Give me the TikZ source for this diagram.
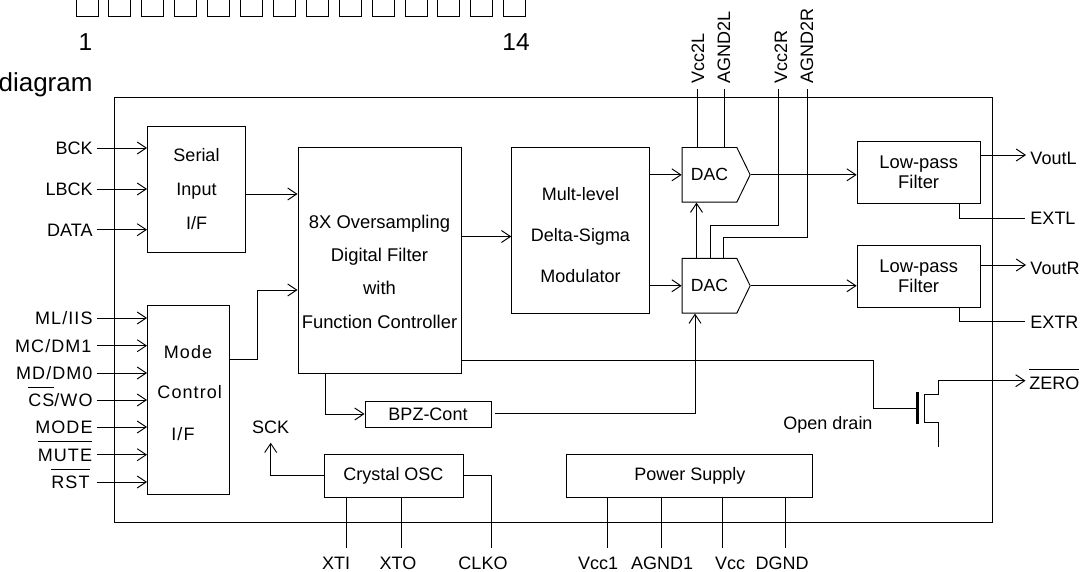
\documentclass[tikz,border=0pt]{standalone}
\usepackage{fontspec}
\setmainfont{Liberation Sans}
\newfontfamily\spacedfont[LetterSpace=6]{Liberation Sans}
\usetikzlibrary{shapes.symbols, arrows.meta, positioning, calc}
\newcommand{\barred}[1]{$\overline{\mbox{\rule{0pt}{1.02em}#1}}$}

\begin{document}
\begin{tikzpicture}[
		x=1pt, y=-1pt,
		>={Straight Barb[length=9pt,width=12pt]},
		line width=0.95pt,
		block/.style={draw, inner sep=0pt, align=center,
			font=\fontsize{18}{34}\selectfont},
		blockdac/.style={draw, signal, signal to=east, signal pointer angle=128, inner sep=0pt,
			minimum width=68pt, minimum height=54.6pt, font=\fontsize{17.6}{20}\selectfont},
		blockfilter/.style={draw, inner sep=0pt, align=center, minimum width=123pt, minimum height=61.5pt,
			font=\fontsize{18.4}{19.7}\selectfont},
		pad/.style={draw, inner sep=0pt, minimum width=22pt, minimum height=32pt},
		pinlabel/.style={inner sep=0pt, font=\fontsize{18}{20}\selectfont},
		modelabel/.style={inner sep=0pt, font=\fontsize{18}{20}\selectfont\spacedfont},
		toplabel/.style={inner sep=0pt, rotate=90, anchor=base west, font=\fontsize{18}{20}\selectfont},
		biglabel/.style={inner sep=0pt, font=\fontsize{24.5}{26}\selectfont},
		arr/.style={->},
	]
		\useasboundingbox (0,0) rectangle (1081,571);

		% Package pads
		\foreach \i in {1,...,14}
			\node[pad] (pad\i) at ({87+32.9*(\i-1)},0) {};
		\node[biglabel, anchor=base] (first) at (85.5,50) {1};
		\node[biglabel, anchor=base] (last) at (516,50) {14};
		\node[biglabel, anchor=base east, font=\fontsize{26}{28}\selectfont] (title) at (93,91.7) {diagram};

		% Chip outline
		\node[draw, inner sep=0pt, minimum width=878pt, minimum height=425pt] (chip) at (553,309.5) {};

		% Input blocks
		\node[block, minimum width=98pt, minimum height=126pt] (serial) at (196.5,189) {Serial\\Input\\I/F};
		\node[block, minimum width=81.5pt, minimum height=189pt, below=53pt of serial.south west, anchor=north west] (mode) {};
		\node[modelabel, anchor=base] (modea) at (188,358) {Mode};
		\node[modelabel, anchor=base] (modeb) at (189.7,398.5) {Control};
		\node[modelabel, anchor=base] (modec) at (183,440.5) {I/F};

		% Filter and modulator
		\node[block, minimum width=163pt, minimum height=226pt] (fir) at (379.5,260) {};
		\node[inner sep=0pt, align=center, font=\fontsize{18.4}{33.3}\selectfont, yshift=-11.7pt] (firtext) at (fir)
			{8X Oversampling\\Digital Filter\\with\\Function Controller};
		\node[block, minimum width=137.5pt, minimum height=166pt] (delta) at (580.5,230) {};
		\node[inner sep=0pt, align=center, font=\fontsize{18}{41}\selectfont, yshift=-5pt] (deltatext) at (delta)
			{Mult-level\\Delta-Sigma\\Modulator};

		% DACs
		\node[blockdac] (dacl) at (709.5,174.8) {DAC};
		\node[blockdac, below=55.4pt of dacl] (dacr) {DAC};

		% Low-pass filters
		\node[blockfilter, right=106pt of dacl, yshift=2.5pt] (filterl) {Low-pass\\Filter};
		\node[blockfilter, right=106pt of dacr, yshift=9.5pt] (filterr) {Low-pass\\Filter};

		% Lower blocks
		\node[block, minimum width=126pt, minimum height=26pt] (bpz) at (428,414) {BPZ-Cont};
		\node[block, minimum width=139pt, minimum height=43pt] (crystal) at (393.5,475.5) {Crystal OSC};
		\node[block, minimum width=246pt, minimum height=43pt, right=103pt of crystal] (power) {Power Supply};

		% Serial inputs
		\foreach \name/\txt/\yy in {bck/BCK/148, lbck/LBCK/189, data/DATA/229.7} {
			\coordinate (\name pin) at (96.5,\yy);
			\node[pinlabel, anchor=base east] (\name) at ([xshift=-3.5pt,yshift=-6.5pt]\name pin) {\txt};
			\draw[arr] (\name pin) -- (\name pin -| serial.west);
		}

		% Mode inputs
		\node[modelabel, anchor=base east] (mliis) at (93,324.5) {ML/IIS};
		\node[modelabel, anchor=base east] (mcdm) at (92,352) {MC/DM1};
		\node[modelabel, anchor=base east] (mddm) at (93,379.5) {MD/DM0};
		\node[modelabel, anchor=base east] (cswo) at (93,406.5) {\barred{CS}/WO};
		\node[modelabel, anchor=base east] (modename) at (93,433.5) {MODE};
		\node[modelabel, anchor=base east] (mute) at (92.5,461) {\barred{MUTE}};
		\node[modelabel, anchor=base east] (rst) at (90,488.5) {\barred{RST}};
		\foreach \name/\yy in {mliis/318, mcdm/345.7, mddm/373, cswo/400, modename/427, mute/454.7, rst/482} {
			\coordinate (\name pin) at (96.5,\yy);
			\draw[arr] (\name pin) -- (\name pin -| mode.west);
		}

		% Main signal path
		\draw[arr] (serial.east |- 0,194) -- (fir.west |- 0,194);
		\draw[arr] (mode.east |- 0,359) -| (257,290) -- (fir.west |- 0,290);
		\draw[arr] (fir.east |- 0,236.5) -- (delta.west |- 0,236.5);
		\draw[arr] (delta.east |- dacl.west) -- (dacl.west);
		\draw[arr] (delta.east |- dacr.west) -- (dacr.west);
		\draw[arr] (dacl.east) -- (dacl.east -| filterl.west);
		\draw[arr] (dacr.east) -- (dacr.east -| filterr.west);
		\draw[arr] (696.5,0 |- dacr.north) -- (696.5,0 |- dacl.south);

		% Outputs
		\coordinate (voutlpin) at (1026,155);
		\coordinate (voutrpin) at (1026,265);
		\coordinate (extlpin) at (1025,218);
		\coordinate (extrpin) at (1025,321);
		\node[pinlabel, anchor=base west] (voutl) at (1030,164.5) {VoutL};
		\node[pinlabel, anchor=base west] (voutr) at (1030,274.5) {VoutR};
		\node[pinlabel, anchor=base west] (extl) at (1030,224.7) {EXTL};
		\node[pinlabel, anchor=base west] (extr) at (1030,328) {EXTR};
		\draw[arr] (filterl.east |- voutlpin) -- (voutlpin);
		\draw[arr] (filterr.east |- voutrpin) -- (voutrpin);
		\draw (959,0 |- filterl.south) |- (extlpin);
		\draw (959,0 |- filterr.south) |- (extrpin);

		% DAC supplies
		\coordinate (vccl) at (697.6,89);
		\coordinate (agndl) at (724,89);
		\coordinate (vccr) at (778.6,89);
		\coordinate (agndr) at (807,89);
		\node[toplabel] (vcclname) at (704,84) {Vcc2L};
		\node[toplabel] (agndlname) at (730,84) {AGND2L};
		\node[toplabel] (vccrname) at (787,84) {Vcc2R};
		\node[toplabel] (agndrname) at (813,84) {AGND2R};
		\draw (vccl) -- (vccl |- dacl.north);
		\draw (agndl) -- (agndl |- dacl.north);
		\draw (vccr) |- (710.7,225) -- (710.7,0 |- dacr.north);
		\draw (agndr) |- (723,237.7) -- (723,0 |- dacr.north);

		% BPZ path
		\draw[arr] (325,0 |- fir.south) |- (bpz.west);
		\draw[arr] (494.5,413) -| (695,0 |- dacr.south);

		% Open drain output
		\coordinate (zeropin) at (1025.5,380.7);
		\node[pinlabel, anchor=base west] (zero) at (1029,389) {\barred{ZERO}};
		\node[pinlabel, anchor=base east] (opendrain) at (873,429) {Open drain};
		\draw (fir.east |- 0,360) -| (873,408.7) -- (916,408.7);
		\draw[line width=3.6pt] (917.6,392) -- (917.6,424);
		\draw[arr] (924,394) -- (938.5,394) |- (zeropin);
		\draw (938.5,447) |- (924,422) -- (924,394);

		% Clock
		\node[pinlabel, anchor=base] (sck) at (270.7,433.5) {SCK};
		\draw[arr] (crystal.west) -| (sck.south |- 0,442.7);
		\coordinate (xtipin) at (346,548);
		\coordinate (xtopin) at (401,548);
		\coordinate (clkopin) at (491,548);
		\node[pinlabel, anchor=base] (xti) at (336,569) {XTI};
		\node[pinlabel, anchor=base] (xto) at (398,569) {XTO};
		\node[pinlabel, anchor=base] (clko) at (483,569) {CLKO};
		\draw (xtipin) -- (xtipin |- crystal.south);
		\draw (xtopin) -- (xtopin |- crystal.south);
		\draw (crystal.east) -| (clkopin);

		% Power pins
		\foreach \name/\txt/\xx/\xl in {vccone/Vcc1/607/598, agndone/AGND1/661/662, vccmain/Vcc/722/730, dgnd/DGND/785.5/782} {
			\coordinate (\name pin) at (\xx,548);
			\node[pinlabel, anchor=base] (\name) at (\xl,569) {\txt};
			\draw (\name pin) -- (\name pin |- power.south);
		}
	\end{tikzpicture}
\end{document}
